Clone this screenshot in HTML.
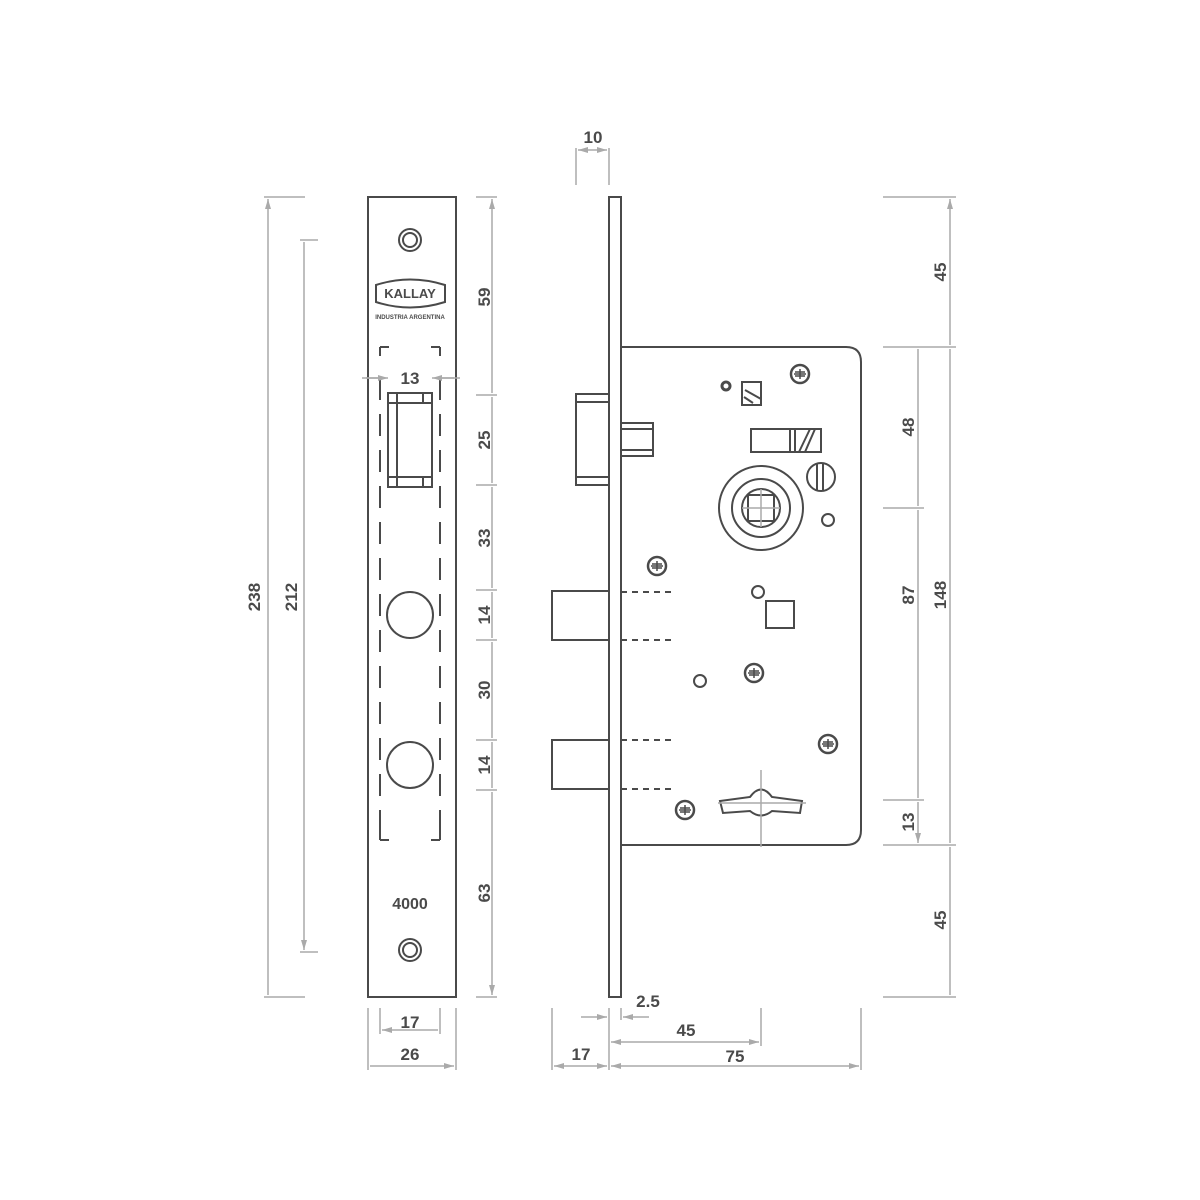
<!DOCTYPE html>
<html><head><style>body{margin:0;background:#fff}svg{display:block}text{font-family:"Liberation Sans",sans-serif;font-weight:bold;fill:#4a4a4a}</style></head><body>
<svg width="1200" height="1200" viewBox="0 0 1200 1200" xmlns="http://www.w3.org/2000/svg">
<defs>
<marker id="a" viewBox="0 0 10 6" refX="10" refY="3" markerWidth="10" markerHeight="6" orient="auto-start-reverse" markerUnits="userSpaceOnUse"><path d="M0,0L10,3L0,6z" fill="#aaa"/></marker>
<g id="scr"><circle r="9" fill="#fff" stroke="#4a4a4a" stroke-width="2.5"/><path d="M-6,0H6M0,-5V5M-5,-2H5M-5,2H5" stroke="#4a4a4a" stroke-width="1.5"/></g>
</defs>
<g fill="none" stroke="#4a4a4a" stroke-width="2">
<!-- front plate -->
<rect x="368" y="197" width="88" height="800"/>
<circle cx="410" cy="240" r="11"/><circle cx="410" cy="240" r="7"/>
<circle cx="410" cy="950" r="11"/><circle cx="410" cy="950" r="7"/>
<path d="M376,285Q410,274 445,285V302Q410,313 376,302Z"/>
<path d="M380,347H389M380,347V356M440,347H431M440,347V356M380,840H389M380,840V831M440,840H431M440,840V831" />
<path d="M380,378V838M440,378V838" stroke-dasharray="22,14"/>
<rect x="388" y="393" width="44" height="94"/>
<path d="M397,393V487M388,403H432M388,477H432M423,393V403M423,477V487"/>
<circle cx="410" cy="615" r="23"/><circle cx="410" cy="765" r="23"/>
<!-- side view -->
<rect x="609" y="197" width="12" height="800"/>
<path d="M621,347H846Q861,347 861,362V830Q861,845 846,845H621"/>
<rect x="576" y="394" width="33" height="91"/>
<path d="M576,402H609M576,477H609"/>
<rect x="621" y="423" width="32" height="33"/><path d="M621,429H653M621,450H653"/>
<rect x="552" y="591" width="57" height="49"/>
<rect x="552" y="740" width="57" height="49"/>
<path d="M621,592H675M621,640H675M621,740H675M621,789H675" stroke-dasharray="6,5"/>
<rect x="742" y="382" width="19" height="23"/><path d="M745,390L761,399M744,397L753,403"/>
<rect x="751" y="429" width="70" height="23"/><path d="M790,429V452M795,429V452M799,452L810,429M805,452L815,429"/>
<circle cx="761" cy="508" r="42"/><circle cx="761" cy="508" r="29"/><circle cx="761" cy="508" r="19"/>
<rect x="748" y="495" width="26" height="26"/>
<circle cx="821" cy="477" r="14"/><path d="M817,464V490M823,464V490"/>
<circle cx="828" cy="520" r="6"/>
<circle cx="758" cy="592" r="6"/>
<rect x="766" y="601" width="28" height="27"/>
<circle cx="700" cy="681" r="6"/>
<path d="M720,801L750,797Q761,782 772,797L802,801L800,813L772,811Q761,820 750,811L723,813Z"/>
<circle cx="726" cy="386" r="4" stroke-width="3"/>
</g>
<g stroke="#aaa" stroke-width="1.5" fill="none">
<path d="M742,508H780M761,489V527M761,770V847M718,803H806"/>
<!-- left dims -->
<path d="M264,197H305M264,997H305M300,240H318M300,952H318"/>
<path d="M268,199V995M304,242V950" marker-start="url(#a)" marker-end="url(#a)"/>
<path d="M476,197H497M476,395H497M476,485H497M476,590H497M476,640H497M476,740H497M476,790H497M476,997H497"/>
<path d="M492,199V393M492,397V483M492,487V588M492,592V638M492,642V738M492,742V788M492,792V995" marker-start="url(#a)" marker-end="url(#a)"/>
<path d="M362,378H384M438,378H460"/>
<path d="M366,378H388" marker-end="url(#a)"/><path d="M454,378H432" marker-end="url(#a)"/>
<path d="M380,1008V1034M440,1008V1034M368,1008V1070M456,1008V1070"/>
<path d="M382,1030H438M370,1066H454" marker-start="url(#a)" marker-end="url(#a)"/>
<!-- side dims -->
<path d="M576,148V185M609,148V185"/>
<path d="M578,150H607" marker-start="url(#a)" marker-end="url(#a)"/>
<path d="M883,197H956M883,347H956M883,845H956M883,997H956M883,508H924M883,800H924"/>
<path d="M950,199V345M950,349V843M950,847V995M918,349V506M918,510V798M918,802V843" marker-start="url(#a)" marker-end="url(#a)"/>
<path d="M552,1008V1070M609,1008V1070M621,1008V1020M761,1008V1046M861,1008V1070"/>
<path d="M581,1017H607" marker-end="url(#a)"/><path d="M649,1017H623" marker-end="url(#a)"/>
<path d="M611,1042H759" marker-start="url(#a)" marker-end="url(#a)"/>
<path d="M554,1066H607" marker-start="url(#a)" marker-end="url(#a)"/>
<path d="M611,1066H859" marker-start="url(#a)" marker-end="url(#a)"/>
</g>
<use href="#scr" x="800" y="374"/><use href="#scr" x="657" y="566"/><use href="#scr" x="754" y="673"/><use href="#scr" x="828" y="744"/><use href="#scr" x="685" y="810"/>
<text x="410" y="298" font-size="13" text-anchor="middle" font-weight="normal">KALLAY</text>
<text x="410" y="319" font-size="6" text-anchor="middle" font-weight="normal">INDUSTRIA ARGENTINA</text>
<text x="410" y="384" font-size="17" text-anchor="middle">13</text>
<text x="410" y="909" font-size="16" text-anchor="middle" font-weight="normal">4000</text>
<g font-size="17" text-anchor="middle">
<text transform="translate(260,597) rotate(-90)">238</text>
<text transform="translate(297,597) rotate(-90)">212</text>
<text transform="translate(490,297) rotate(-90)">59</text>
<text transform="translate(490,440) rotate(-90)">25</text>
<text transform="translate(490,538) rotate(-90)">33</text>
<text transform="translate(490,615) rotate(-90)">14</text>
<text transform="translate(490,690) rotate(-90)">30</text>
<text transform="translate(490,765) rotate(-90)">14</text>
<text transform="translate(490,893) rotate(-90)">63</text>
<text transform="translate(946,272) rotate(-90)">45</text>
<text transform="translate(914,427) rotate(-90)">48</text>
<text transform="translate(914,595) rotate(-90)">87</text>
<text transform="translate(946,595) rotate(-90)">148</text>
<text transform="translate(914,822) rotate(-90)">13</text>
<text transform="translate(946,920) rotate(-90)">45</text>
<text x="410" y="1028">17</text>
<text x="410" y="1060">26</text>
<text x="593" y="143">10</text>
<text x="648" y="1007">2.5</text>
<text x="686" y="1036">45</text>
<text x="581" y="1060">17</text>
<text x="735" y="1062">75</text>
</g>
</svg>
</body></html>
